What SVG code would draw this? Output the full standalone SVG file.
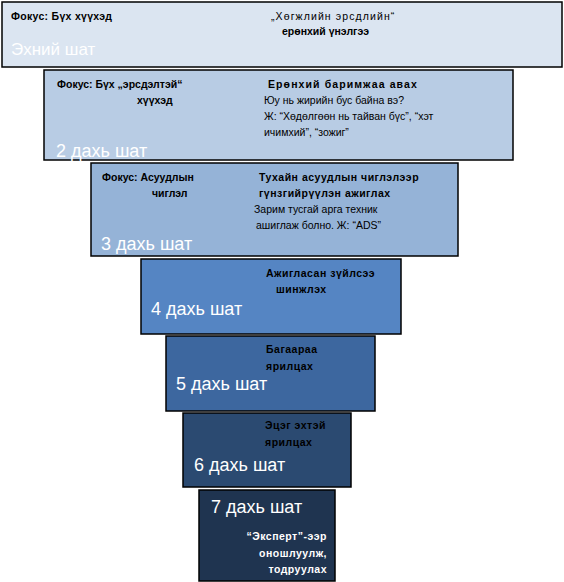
<svg xmlns="http://www.w3.org/2000/svg" width="564" height="582" viewBox="0 0 564 582">
<style>
.box{stroke:#000;stroke-width:1.5}
.t{font-family:"Liberation Sans",Arial,sans-serif;font-size:10.5px;fill:#000}
.b{font-weight:bold}
.ls{letter-spacing:0.5px}
.w{fill:#fff}
.s{font-family:"Liberation Sans",Arial,sans-serif;font-size:18px;fill:#fff}
</style>
<rect width="564" height="582" fill="#fff"/>
<g id="connectors"></g>
<g id="stage1">
<rect class="box" x="2" y="2" width="560" height="65" fill="#dbe5f1"/>
<text class="t b" x="11" y="20" style="letter-spacing:0.3px">Фокус: Бүх хүүхэд</text>
<text class="t" x="271" y="20" style="letter-spacing:1.1px">„Хөгжлийн эрсдлийн“</text>
<text class="t b" x="282" y="35">ерөнхий үнэлгээ</text>
<text class="s" x="11" y="55" style="font-size:17px">Эхний шат</text>
</g>
<g id="stage2">
<rect class="box" x="44" y="70" width="469" height="90" fill="#b8cce4"/>
<text class="t b" x="57" y="88">Фокус: Бүх „эрсдэлтэй“</text>
<text class="t b" x="137" y="104">хүүхэд</text>
<text class="t b" x="268" y="88" style="letter-spacing:1.1px">Ерөнхий баримжаа авах</text>
<text class="t" x="264" y="104">Юу нь жирийн бус байна вэ?</text>
<text class="t" x="264" y="120">Ж: “Хөдөлгөөн нь тайван бүс”, “хэт</text>
<text class="t" x="264" y="136">ичимхий”, “зожиг”</text>
<text class="s" x="56" y="157">2 дахь шат</text>
</g>
<g id="stage3">
<rect class="box" x="91" y="163" width="367" height="93" fill="#95b3d7"/>
<text class="t b" x="102" y="181">Фокус: Асуудлын</text>
<text class="t b" x="152" y="197">чиглэл</text>
<text class="t b ls" x="259" y="181">Тухайн асуудлын чиглэлээр</text>
<text class="t b ls" x="259" y="197">гүнзгийрүүлэн ажиглах</text>
<text class="t" x="254" y="213">Зарим тусгай арга техник</text>
<text class="t" x="256" y="229">ашиглаж болно. Ж: “ADS”</text>
<text class="s" x="101" y="250">3 дахь шат</text>
</g>
<g id="stage4">
<rect class="box" x="141" y="259" width="260" height="75" fill="#5585c3"/>
<text class="t b ls" x="266" y="277">Ажигласан зүйлсээ</text>
<text class="t b ls" x="276" y="293">шинжлэх</text>
<text class="s" x="151" y="315">4 дахь шат</text>
</g>
<g id="stage5">
<rect class="box" x="166" y="336" width="209" height="75" fill="#3d679f"/>
<text class="t b ls" x="266" y="353">Багаараа</text>
<text class="t b ls" x="266" y="370">ярилцах</text>
<text class="s" x="176" y="390">5 дахь шат</text>
</g>
<g id="stage6">
<rect class="box" x="183" y="413" width="168" height="74" fill="#2b4a71"/>
<text class="t b ls" x="265" y="429">Эцэг эхтэй</text>
<text class="t b ls" x="265" y="446">ярилцах</text>
<text class="s" x="194" y="471">6 дахь шат</text>
</g>
<g id="stage7">
<rect class="box" x="199" y="490" width="136" height="91" fill="#1f3450"/>
<text class="s" x="211" y="513">7 дахь шат</text>
<text class="t b w ls" x="327" y="540" text-anchor="end">“Эксперт”-ээр</text>
<text class="t b w ls" x="327" y="557" text-anchor="end">оношлуулж,</text>
<text class="t b w ls" x="327" y="573" text-anchor="end">тодруулах</text>
</g>
</svg>
